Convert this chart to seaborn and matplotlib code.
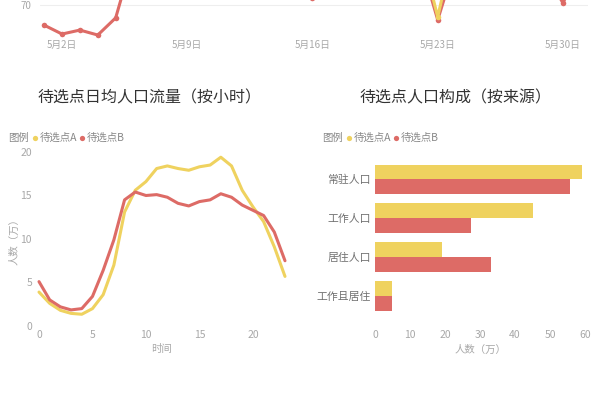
import numpy as np
import pandas as pd
import matplotlib
matplotlib.use("Agg")
import matplotlib.pyplot as plt
import seaborn as sns
from matplotlib.lines import Line2D

sns.set_theme(style="white")
plt.rcParams['font.family'] = ['Noto Sans CJK SC', 'DejaVu Sans']

# ---------------- data ----------------
series_names = ["待选点A", "待选点B"]
colors = ["#EFD25F", "#DD6B66"]

# top (cropped) daily chart
days = list(range(1, 32))
day_ticks = [2, 9, 16, 23, 30]
day_tick_labels = ["5月2日", "5月9日", "5月16日", "5月23日", "5月30日"]
daily_a = [90, 88, 91, 89, 92, 95, 96, 94, 93, 95, 97, 94, 92, 95, 90, 86,
           93, 95, 97, 94, 95, 88, 66.4, 90, 95, 97, 95, 93, 90, 84, 91]
daily_b = [63.9, 61.2, 62.4, 60.9, 66.1, 85, 88, 90, 87, 89, 91, 86, 84, 88, 80, 72,
           82, 88, 90, 87, 89, 84, 65.5, 83, 89, 91, 88, 86, 80, 70.6, 82]
daily_yticks = [70]

# hourly flow chart
hours = list(range(24))
hourly_a = [3.9, 2.6, 1.8, 1.45, 1.35, 2.0, 3.6, 7.0, 13.1, 15.6, 16.6, 18.1,
            18.4, 18.1, 17.9, 18.3, 18.5, 19.4, 18.4, 15.6, 13.7, 12.0, 9.1, 5.7]
hourly_b = [5.1, 3.0, 2.2, 1.85, 2.0, 3.4, 6.4, 9.9, 14.5, 15.4, 15.0, 15.1,
            14.8, 14.1, 13.8, 14.3, 14.5, 15.2, 14.8, 13.9, 13.3, 12.7, 10.8, 7.5]
hour_ticks = [0, 5, 10, 15, 20]
flow_ticks = [0, 5, 10, 15, 20]

# population source chart
sources = ["常驻人口", "工作人口", "居住人口", "工作且居住"]
source_a = [59.0, 45.0, 19.0, 4.9]
source_b = [55.7, 27.5, 33.0, 4.8]
people_ticks = [0, 10, 20, 30, 40, 50, 60]

# text
title_left = "待选点日均人口流量（按小时）"
title_right = "待选点人口构成（按来源）"
legend_title = "图例"
xlabel_left = "时间"
ylabel_left = "人数（万）"
xlabel_right = "人数（万）"

# ---------------- figure ----------------
W, H = 600, 400
fig = plt.figure(figsize=(6, 4), dpi=100)
fig.patch.set_facecolor("white")


def px_axes(left, top, right, bottom):
    return fig.add_axes([left / W, 1 - bottom / H, (right - left) / W, (bottom - top) / H])


def fx(x):
    return x / W


def fy(y):
    return 1 - y / H


tick_color = "#A8A8A8"
palette = dict(zip(series_names, colors))

# ---- top cropped chart ----
ax0 = px_axes(40, -94, 588, 38)
df_daily = pd.DataFrame({
    "day": days * 2,
    "value": daily_a + daily_b,
    "series": [series_names[0]] * len(days) + [series_names[1]] * len(days),
})
sns.lineplot(data=df_daily, x="day", y="value", hue="series", hue_order=series_names[::-1],
             palette=palette, marker="o", markersize=4, markeredgewidth=0,
             linewidth=2.2, legend=False, ax=ax0)
ax0.set_xlim(0.77, 31.4)
ax0.set_ylim(60, 100)
ax0.set_xticks(day_ticks)
ax0.set_xticklabels(day_tick_labels)
ax0.set_yticks(daily_yticks)
ax0.yaxis.grid(True, color="#EEEEEE", linewidth=0.8)
ax0.set_axisbelow(True)
for s in ax0.spines.values():
    s.set_visible(False)
ax0.tick_params(axis="both", length=0, labelsize=7, labelcolor=tick_color)
ax0.tick_params(axis="x", pad=1.5)
ax0.tick_params(axis="y", pad=6)
ax0.set_xlabel("")
ax0.set_ylabel("")
ax0.patch.set_alpha(0)

# ---- bottom-left hourly chart ----
ax1 = px_axes(39, 152, 285, 326)
df_hourly = pd.DataFrame({
    "hour": hours * 2,
    "value": hourly_a + hourly_b,
    "series": [series_names[0]] * len(hours) + [series_names[1]] * len(hours),
})
sns.lineplot(data=df_hourly, x="hour", y="value", hue="series", hue_order=series_names,
             palette=palette, linewidth=2.2, legend=False, ax=ax1)
for ln in ax1.lines:
    ln.set_clip_on(False)
ax1.set_xlim(0, 23)
ax1.set_ylim(0, 20)
ax1.set_xticks(hour_ticks)
ax1.set_yticks(flow_ticks)
for s in ax1.spines.values():
    s.set_visible(False)
ax1.tick_params(axis="both", length=0, labelsize=7.5, labelcolor=tick_color)
ax1.tick_params(axis="x", pad=3)
ax1.tick_params(axis="y", pad=5)
ax1.set_xlabel(xlabel_left, fontsize=7.5, color=tick_color, labelpad=3)
ax1.set_ylabel(ylabel_left, fontsize=7.5, color=tick_color, labelpad=1)
ax1.patch.set_alpha(0)

# ---- bottom-right bar chart ----
ax2 = px_axes(375, 155, 585, 326)
df_src = pd.DataFrame({
    "source": sources * 2,
    "value": source_a + source_b,
    "series": [series_names[0]] * len(sources) + [series_names[1]] * len(sources),
})
sns.barplot(data=df_src, y="source", x="value", hue="series", hue_order=series_names,
            order=sources, palette=palette, orient="h", width=0.75, saturation=1,
            legend=False, ax=ax2, edgecolor="none", linewidth=0)
ax2.set_xlim(0, 60)
ax2.set_ylim(3.77, -0.62)
ax2.set_xticks(people_ticks)
for s in ax2.spines.values():
    s.set_visible(False)
ax2.tick_params(axis="both", length=0, labelsize=7.5)
ax2.tick_params(axis="x", pad=3, labelcolor=tick_color)
ax2.tick_params(axis="y", pad=3, labelcolor="#707070", labelsize=7.8)
ax2.set_xlabel(xlabel_right, fontsize=7.5, color=tick_color, labelpad=3)
ax2.set_ylabel("")
ax2.patch.set_alpha(0)

# ---- titles ----
fig.text(fx(150), fy(98), title_left, ha="center", va="center", fontsize=11.5, color="#333333")
fig.text(fx(456), fy(98), title_right, ha="center", va="center", fontsize=11.5, color="#333333")


# ---- legends ----
def draw_legend(x0, y0):
    fig.text(fx(x0), fy(y0), legend_title, ha="left", va="center", fontsize=7.5, color="#888888")
    positions = [x0 + 27, x0 + 74]
    for name, col, xp in zip(series_names, colors, positions):
        fig.add_artist(Line2D([fx(xp)], [fy(y0)], marker="o", markersize=3.8,
                              color=col, markeredgewidth=0, transform=fig.transFigure))
        fig.text(fx(xp + 5), fy(y0), name, ha="left", va="center", fontsize=7.5, color="#888888")


draw_legend(8, 138)
draw_legend(322, 138)

fig.savefig("out.png", dpi=100, facecolor="white")
